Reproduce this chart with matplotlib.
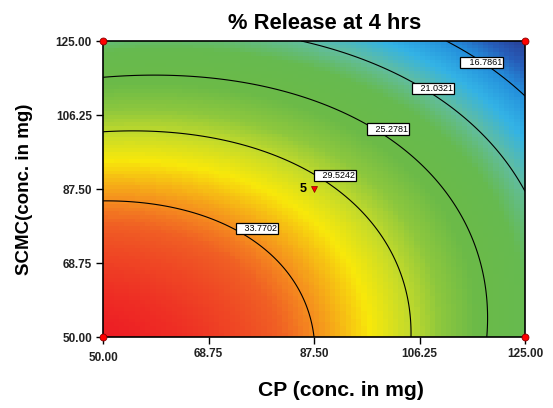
import numpy as np
import matplotlib
matplotlib.use("Agg")
import matplotlib.pyplot as plt
from matplotlib.colors import LinearSegmentedColormap
import matplotlib.transforms as mtransforms

plt.rcParams['font.family'] = ['Liberation Sans', 'DejaVu Sans']

# quadratic response model, u = (CP-50)/37.5, v = (SCMC-50)/37.5
coef_const = 38.4
coef_u = -1.473
coef_v = -2.34
coef_uu = -3.157
coef_vv = -2.928
coef_uv = 1.7

levels = [16.7861, 21.0321, 25.2781, 29.5242, 33.7702]
label_pos = [(117.3, 119.55), (108.7, 113.0), (100.65, 102.7), (91.3, 90.85), (77.4, 77.45)]

ticks = [50.00, 68.75, 87.50, 106.25, 125.00]
design_x = [50, 125, 50, 125]
design_y = [50, 50, 125, 125]
center = (87.5, 87.5)
center_reps = "5"

def response(X, Y):
    u = (X - 50) / 37.5
    v = (Y - 50) / 37.5
    return (coef_const + coef_u * u + coef_v * v + coef_uu * u**2
            + coef_vv * v**2 + coef_uv * u * v)

# colours from low (blue) to high (red)
cmap = LinearSegmentedColormap.from_list("dx", [
    (0.000, (0.16, 0.24, 0.58)),
    (0.070, (0.15, 0.36, 0.72)),
    (0.143, (0.14, 0.56, 0.86)),
    (0.230, (0.20, 0.70, 0.90)),
    (0.310, (0.38, 0.74, 0.62)),
    (0.389, (0.40, 0.73, 0.31)),
    (0.508, (0.42, 0.73, 0.28)),
    (0.587, (0.55, 0.78, 0.24)),
    (0.659, (0.78, 0.86, 0.16)),
    (0.726, (0.97, 0.91, 0.04)),
    (0.817, (0.96, 0.55, 0.12)),
    (0.865, (0.94, 0.37, 0.14)),
    (1.000, (0.93, 0.11, 0.14)),
])

fig = plt.figure(figsize=(5.53, 4.08), dpi=100)
ax = fig.add_axes([0.1863, 0.174, 0.7631, 0.7255])

# coarse cells like the original rendering
edges = np.linspace(50, 125, 81)
mids = (edges[:-1] + edges[1:]) / 2
Xc, Yc = np.meshgrid(mids, mids)
ax.pcolormesh(edges, edges, response(Xc, Yc), cmap=cmap, vmin=13.2, vmax=38.4,
              shading='flat')

g = np.linspace(50, 125, 300)
X, Y = np.meshgrid(g, g)
cs = ax.contour(X, Y, response(X, Y), levels=levels, colors='black', linewidths=0.8)
for lev, (lx, ly) in zip(cs.levels, label_pos):
    ax.text(lx, ly, f"   {lev:.4f}", fontsize=6.5, ha='center', va='center',
            bbox=dict(boxstyle='square,pad=0.12', fc='white', ec='black', lw=0.9),
            zorder=4)

ax.plot(design_x, design_y, 'o', ms=5, mfc='red', mec='#8b0000', mew=0.6,
        clip_on=False, zorder=5)
ax.plot(*center, marker='v', ms=5, mfc='red', mec='#8b0000', mew=0.5, zorder=5)
ax.annotate(center_reps, center, xytext=(-8, 0), textcoords='offset points',
            ha='center', va='center', fontsize=9, fontweight='bold')

ax.set_xlim(50, 125)
ax.set_ylim(50, 125)
ax.set_xticks(ticks)
ax.set_yticks(ticks)
ax.set_xticklabels([f"{t:.2f}" for t in ticks])
ax.set_yticklabels([f"{t:.2f}" for t in ticks])
ax.tick_params(direction='out', length=5, width=1, labelsize=8.5, pad=3)
for lab in ax.get_xticklabels() + ax.get_yticklabels():
    lab.set_fontweight('bold')
    lab.set_color('#222222')
# first x label sits a bit lower in the original
xl = ax.get_xticklabels()
xl[0].set_transform(xl[0].get_transform() +
                    mtransforms.ScaledTranslation(0, -4 / 100, fig.dpi_scale_trans))
for sp in ax.spines.values():
    sp.set_linewidth(1.2)

ax.set_title("% Release at 4 hrs", fontsize=15.8, fontweight='bold', pad=9, x=0.526)
ax.set_xlabel("CP (conc. in mg)", fontsize=15.2, fontweight='bold')
ax.xaxis.set_label_coords(0.564, -0.15)
ax.set_ylabel("SCMC(conc. in mg)", fontsize=13.5, fontweight='bold', labelpad=16)

fig.savefig("out.png", dpi=100)
